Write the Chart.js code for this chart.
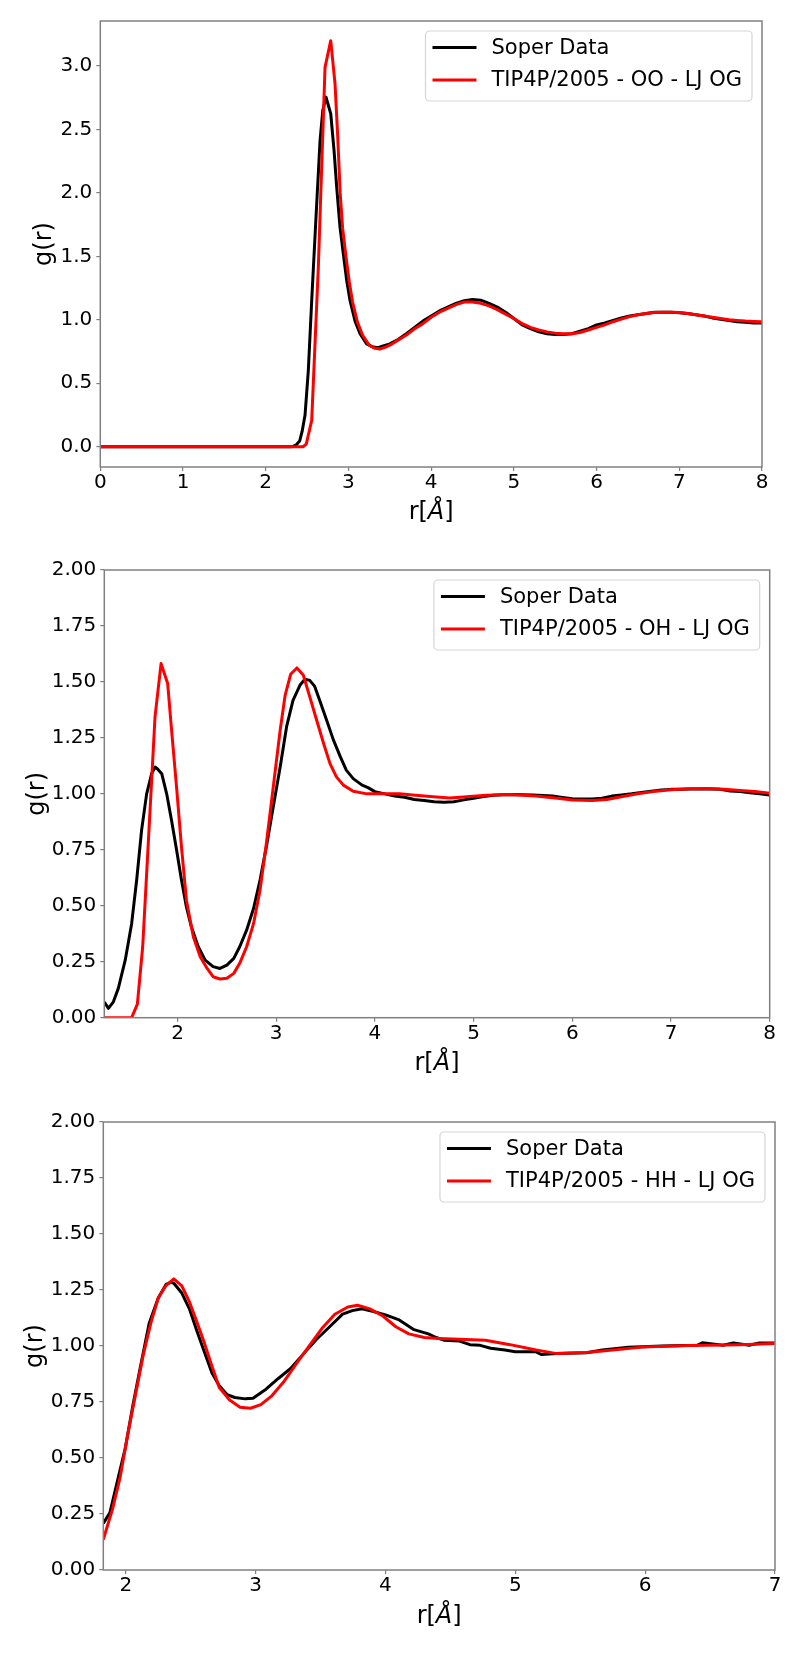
<!DOCTYPE html>
<html>
<head>
<meta charset="utf-8">
<script src="https://cdn.jsdelivr.net/npm/chart.js@4.4.1/dist/chart.umd.min.js"></script>
<style>
  html, body { margin: 0; padding: 0; background: #fff; }
  body { width: 800px; height: 1656px; position: relative; overflow: hidden; }
  canvas { position: absolute; left: 0; }
</style>
</head>
<body>
<canvas id="chart-oo" width="800" height="545" style="top:0px"></canvas>
<canvas id="chart-oh" width="800" height="545" style="top:545px"></canvas>
<canvas id="chart-hh" width="800" height="566" style="top:1090px"></canvas>
<script>
// ---- O-O ----
const ooSoperR = [0, 2.30, 2.33, 2.37, 2.41, 2.44, 2.475, 2.515, 2.556, 2.608, 2.657, 2.69, 2.729, 2.786, 2.826, 2.858, 2.898, 2.938, 2.979, 3.019, 3.08, 3.14, 3.22, 3.30, 3.36, 3.42,
  3.5, 3.6, 3.7, 3.8, 3.9, 4.0, 4.1, 4.2, 4.3, 4.4, 4.5, 4.6, 4.7, 4.8, 4.9, 5.0, 5.1, 5.2, 5.3, 5.4, 5.5, 5.6, 5.7, 5.8, 5.9,
  6.0, 6.1, 6.2, 6.3, 6.4, 6.5, 6.6, 6.7, 6.8, 6.9, 7.0, 7.1, 7.2, 7.3, 7.4, 7.5, 7.6, 7.7, 7.8, 7.9, 8.0];
const ooSoperG = [0, 0, 0.002, 0.015, 0.044, 0.12, 0.247, 0.60, 1.153, 1.81, 2.414, 2.65, 2.755, 2.624, 2.335, 2.046, 1.73, 1.521, 1.31, 1.153, 0.99, 0.89, 0.81, 0.785, 0.78, 0.795,
  0.81, 0.845, 0.89, 0.94, 0.99, 1.03, 1.07, 1.10, 1.13, 1.15, 1.16, 1.155, 1.13, 1.10, 1.06, 1.01, 0.96, 0.93, 0.905, 0.89, 0.885, 0.885, 0.89, 0.91, 0.93,
  0.96, 0.975, 0.995, 1.015, 1.03, 1.04, 1.05, 1.06, 1.06, 1.06, 1.055, 1.05, 1.04, 1.03, 1.015, 1.005, 0.995, 0.985, 0.98, 0.975, 0.975];
const ooTipR = [0, 2.45, 2.49, 2.556, 2.636, 2.717, 2.786, 2.838, 2.87, 2.90, 2.93, 2.97, 3.01, 3.05, 3.11, 3.17, 3.25, 3.32, 3.38, 3.45,
  3.5, 3.6, 3.7, 3.8, 3.9, 4.0, 4.1, 4.2, 4.3, 4.4, 4.5, 4.6, 4.7, 4.8, 4.9, 5.0, 5.1, 5.2, 5.3, 5.4, 5.5, 5.6, 5.7, 5.8, 5.9,
  6.0, 6.1, 6.2, 6.3, 6.4, 6.5, 6.6, 6.7, 6.8, 6.9, 7.0, 7.1, 7.2, 7.3, 7.4, 7.5, 7.6, 7.7, 7.8, 7.9, 8.0];
const ooTipG = [0, 0, 0.02, 0.207, 1.415, 2.99, 3.20, 2.86, 2.45, 2.0, 1.72, 1.50, 1.30, 1.14, 0.98, 0.88, 0.80, 0.775, 0.77, 0.785,
  0.80, 0.84, 0.88, 0.93, 0.97, 1.02, 1.06, 1.09, 1.12, 1.14, 1.14, 1.13, 1.11, 1.08, 1.045, 1.01, 0.97, 0.94, 0.92, 0.905, 0.895, 0.89, 0.89, 0.90, 0.92,
  0.94, 0.96, 0.985, 1.005, 1.025, 1.04, 1.05, 1.058, 1.06, 1.06, 1.057, 1.05, 1.04, 1.03, 1.02, 1.01, 1.0, 0.995, 0.99, 0.987, 0.985];

// ---- O-H ----
const ohSoperR = [1.258, 1.30, 1.35, 1.40, 1.47, 1.535, 1.586, 1.636, 1.687, 1.738, 1.772, 1.80, 1.84, 1.89, 1.94, 1.99, 2.04, 2.09, 2.14, 2.21,
  2.28, 2.36, 2.43, 2.50, 2.57, 2.63, 2.70, 2.77, 2.836, 2.90, 2.97, 3.04, 3.105, 3.17, 3.24, 3.29, 3.34, 3.39, 3.44, 3.51,
  3.58, 3.65, 3.71, 3.78, 3.87, 3.93, 4.0, 4.1, 4.2, 4.3, 4.4, 4.5, 4.6, 4.7, 4.8, 4.9, 5.0, 5.1, 5.2, 5.3, 5.4, 5.5, 5.6, 5.7, 5.8, 5.9,
  6.0, 6.1, 6.2, 6.3, 6.4, 6.5, 6.6, 6.7, 6.8, 6.9, 7.0, 7.1, 7.2, 7.3, 7.4, 7.5, 7.6, 7.7, 7.8, 7.9, 8.0];
const ohSoperG = [0.07, 0.042, 0.071, 0.131, 0.257, 0.42, 0.615, 0.838, 1.0, 1.09, 1.12, 1.11, 1.09, 1.0, 0.88, 0.75, 0.615, 0.495, 0.406, 0.317,
  0.257, 0.228, 0.22, 0.235, 0.265, 0.317, 0.391, 0.488, 0.615, 0.763, 0.942, 1.12, 1.30, 1.418, 1.485, 1.512, 1.507, 1.48, 1.418, 1.33,
  1.24, 1.165, 1.106, 1.068, 1.039, 1.028, 1.01, 1.0, 0.99, 0.985, 0.975, 0.97, 0.965, 0.962, 0.965, 0.973, 0.98, 0.988, 0.994, 0.996, 0.997, 0.996, 0.995, 0.993, 0.99, 0.984,
  0.978, 0.977, 0.977, 0.98, 0.99, 0.995, 1.0, 1.006, 1.012, 1.017, 1.02, 1.021, 1.022, 1.022, 1.022, 1.02, 1.013, 1.01, 1.005, 1.0, 0.995];
const ohTipR = [1.258, 1.535, 1.593, 1.647, 1.70, 1.772, 1.833, 1.90, 1.94, 1.99, 2.04, 2.09, 2.16, 2.23, 2.30, 2.36, 2.43, 2.50, 2.57, 2.63,
  2.70, 2.77, 2.836, 2.90, 2.97, 3.04, 3.09, 3.146, 3.21, 3.275, 3.34, 3.41, 3.48, 3.545, 3.61, 3.68, 3.78, 3.92, 4.09, 4.25,
  4.41, 4.59, 4.76, 4.93, 5.13, 5.37, 5.63, 5.85, 6.0, 6.2, 6.35, 6.51, 6.66, 6.82, 7.0, 7.18, 7.36, 7.54, 7.7, 7.85, 8.0];
const ohTipG = [0, 0, 0.061, 0.317, 0.75, 1.344, 1.582, 1.493, 1.284, 1.031, 0.763, 0.525, 0.362, 0.272, 0.22, 0.183, 0.173, 0.176, 0.198, 0.243,
  0.317, 0.42, 0.57, 0.778, 1.031, 1.284, 1.44, 1.534, 1.5625, 1.53, 1.433, 1.329, 1.225, 1.135, 1.076, 1.039, 1.012, 1.0, 1.0, 1.0,
  0.994, 0.987, 0.982, 0.987, 0.994, 0.997, 0.99, 0.98, 0.973, 0.97, 0.975, 0.988, 1.0, 1.01, 1.018, 1.023, 1.024, 1.02, 1.015, 1.01, 1.003];

// ---- H-H ----
const hhSoperR = [1.827, 1.878, 1.937, 1.996, 2.055, 2.114, 2.18, 2.25, 2.31, 2.35, 2.37, 2.43, 2.49, 2.546, 2.605, 2.664, 2.72, 2.78, 2.84, 2.92,
  2.98, 3.08, 3.175, 3.27, 3.37, 3.47, 3.57, 3.67, 3.745, 3.82, 3.90, 4.0, 4.10, 4.22, 4.33, 4.39, 4.45, 4.57, 4.65, 4.73,
  4.81, 4.92, 5.0, 5.16, 5.2, 5.32, 5.55, 5.67, 5.87, 6.13, 6.40, 6.44, 6.6, 6.68, 6.8, 6.88, 7.0];
const hhSoperG = [0.208, 0.256, 0.40, 0.543, 0.735, 0.91, 1.10, 1.214, 1.275, 1.285, 1.28, 1.238, 1.166, 1.07, 0.974, 0.879, 0.823, 0.783, 0.77, 0.764,
  0.767, 0.807, 0.855, 0.90, 0.966, 1.03, 1.086, 1.142, 1.158, 1.166, 1.155, 1.139, 1.118, 1.073, 1.054, 1.038, 1.026, 1.022, 1.006, 1.003,
  0.99, 0.982, 0.974, 0.974, 0.962, 0.966, 0.97, 0.982, 0.994, 1.0, 1.003, 1.014, 1.003, 1.014, 1.003, 1.013, 1.013];
const hhTipR = [1.827, 1.898, 1.957, 2.016, 2.075, 2.134, 2.193, 2.25, 2.31, 2.37, 2.43, 2.49, 2.546, 2.605, 2.664, 2.72, 2.80, 2.88, 2.96, 3.04,
  3.12, 3.215, 3.31, 3.41, 3.51, 3.61, 3.71, 3.785, 3.88, 3.98, 4.08, 4.18, 4.30, 4.41, 4.57, 4.77, 4.96, 5.16, 5.32, 5.55,
  5.75, 5.98, 6.34, 6.73, 7.0];
const hhTipG = [0.136, 0.272, 0.415, 0.607, 0.783, 0.958, 1.102, 1.214, 1.27, 1.30, 1.27, 1.198, 1.11, 1.014, 0.91, 0.815, 0.759, 0.727, 0.722, 0.738,
  0.775, 0.839, 0.918, 0.998, 1.078, 1.142, 1.174, 1.182, 1.166, 1.134, 1.086, 1.054, 1.038, 1.034, 1.03, 1.026, 1.006, 0.982, 0.966, 0.971,
  0.982, 0.995, 1.002, 1.006, 1.011];

// ticks
const ooXTicks = [0, 1, 2, 3, 4, 5, 6, 7, 8];
const ooYTicks = [0, 0.5, 1.0, 1.5, 2.0, 2.5, 3.0];
const ohXTicks = [2, 3, 4, 5, 6, 7, 8];
const hhXTicks = [2, 3, 4, 5, 6, 7];
const quarterYTicks = [0, 0.25, 0.5, 0.75, 1.0, 1.25, 1.5, 1.75, 2.0];

const soperLabel = 'Soper Data';
const tipLabels = ['TIP4P/2005 - OO - LJ OG', 'TIP4P/2005 - OH - LJ OG', 'TIP4P/2005 - HH - LJ OG'];

Chart.defaults.font.family = '"DejaVu Sans", sans-serif';
Chart.defaults.color = '#000';

const SPINE = '#808080';

function pts(r, g) {
  return r.map((x, i) => ({ x: x, y: g[i] }));
}

// frame on all four sides, like matplotlib spines
const frame = {
  id: 'frame',
  afterDatasetsDraw(chart) {
    const { ctx, chartArea: a } = chart;
    ctx.save();
    ctx.strokeStyle = SPINE;
    ctx.lineWidth = 1.5;
    ctx.strokeRect(a.left, a.top, a.right - a.left, a.bottom - a.top);
    ctx.restore();
  }
};

// legend box inside the plot, upper right
const legendBox = {
  id: 'legendBox',
  afterDatasetsDraw(chart, args, opts) {
    const { ctx, chartArea: a } = chart;
    ctx.save();
    ctx.font = '21px "DejaVu Sans"';
    const textW = Math.max(...opts.items.map(it => ctx.measureText(it.text).width));
    const w = 66 + textW + 10;
    const h = 70;
    const x = a.right - 10 - w;
    const y = a.top + 10;
    ctx.beginPath();
    ctx.roundRect(x, y, w, h, 4);
    ctx.fillStyle = 'rgba(255,255,255,0.85)';
    ctx.fill();
    ctx.strokeStyle = '#d5d5d5';
    ctx.lineWidth = 1.2;
    ctx.stroke();
    opts.items.forEach((it, i) => {
      const ly = y + 16.5 + i * 32.5;
      ctx.strokeStyle = it.color;
      ctx.lineWidth = 3;
      ctx.beginPath();
      ctx.moveTo(x + 7, ly);
      ctx.lineTo(x + 51, ly);
      ctx.stroke();
      ctx.fillStyle = '#000';
      ctx.textBaseline = 'middle';
      ctx.fillText(it.text, x + 66, ly + 1);
    });
    ctx.restore();
  }
};

// x title r[Å] with italic Å
const rTitle = {
  id: 'rTitle',
  afterDraw(chart, args, opts) {
    const { ctx, chartArea: a } = chart;
    const parts = [['r[', '24px "DejaVu Sans"'], ['Å', 'italic 24px "DejaVu Sans"'], [']', '24px "DejaVu Sans"']];
    ctx.save();
    let total = 0;
    parts.forEach(p => { ctx.font = p[1]; total += ctx.measureText(p[0]).width; });
    let x = (a.left + a.right) / 2 - total / 2;
    const y = a.bottom + opts.offset;
    ctx.fillStyle = '#000';
    ctx.textBaseline = 'middle';
    parts.forEach(p => {
      ctx.font = p[1];
      ctx.fillText(p[0], x, y);
      x += ctx.measureText(p[0]).width;
    });
    ctx.restore();
  }
};

function makeChart(id, cfg) {
  const canvas = document.getElementById(id);
  const W = canvas.width, H = canvas.height;
  const area = cfg.area;
  return new Chart(canvas, {
    type: 'line',
    data: {
      datasets: [
        { label: soperLabel, data: pts(cfg.soperR, cfg.soperG), borderColor: '#000000', order: 2 },
        { label: cfg.tipLabel, data: pts(cfg.tipR, cfg.tipG), borderColor: '#ff0000', order: 1 }
      ]
    },
    options: {
      responsive: false,
      devicePixelRatio: 1,
      animation: false,
      events: [],
      elements: {
        point: { radius: 0 },
        line: { borderWidth: 3, tension: 0, borderJoinStyle: 'round', fill: false }
      },
      layout: { padding: { left: 0, top: area.top, right: W - area.right, bottom: 0 } },
      scales: {
        x: {
          type: 'linear',
          min: cfg.xMin, max: cfg.xMax,
          afterFit: s => { s.height = H - area.bottom; },
          afterBuildTicks: s => { s.ticks = cfg.xTicks.map(v => ({ value: v })); },
          ticks: { autoSkip: false, maxRotation: 0, padding: 2, font: { size: 20, lineHeight: 1 }, callback: v => String(v) },
          grid: { display: true, drawOnChartArea: false, drawTicks: true, tickLength: 4, color: SPINE, lineWidth: 1.2 },
          border: { display: false }
        },
        y: {
          type: 'linear',
          min: cfg.yMin, max: cfg.yMax,
          afterFit: s => { s.width = area.left; },
          afterBuildTicks: s => { s.ticks = cfg.yTicks.map(v => ({ value: v })); },
          ticks: { autoSkip: false, padding: 4, font: { size: 20, lineHeight: 1 }, callback: v => v.toFixed(cfg.yDec) },
          grid: { display: true, drawOnChartArea: false, drawTicks: true, tickLength: 4, color: SPINE, lineWidth: 1.2 },
          border: { display: false },
          title: { display: true, text: 'g(r)', font: { size: 24 }, padding: { top: cfg.yTitlePad, bottom: 0 } }
        }
      },
      plugins: {
        legend: { display: false },
        tooltip: { enabled: false },
        legendBox: { items: [{ text: soperLabel, color: '#000000' }, { text: cfg.tipLabel, color: '#ff0000' }] },
        rTitle: { offset: cfg.xTitleOffset }
      }
    },
    plugins: [frame, legendBox, rTitle]
  });
}

makeChart('chart-oo', {
  soperR: ooSoperR, soperG: ooSoperG, tipR: ooTipR, tipG: ooTipG, tipLabel: tipLabels[0],
  xMin: 0, xMax: 8, yMin: -0.16, yMax: 3.355, xTicks: ooXTicks, yTicks: ooYTicks, yDec: 1,
  area: { left: 100.3, top: 21, right: 762, bottom: 467 }, yTitlePad: 30.5, xTitleOffset: 46
});
makeChart('chart-oh', {
  soperR: ohSoperR, soperG: ohSoperG, tipR: ohTipR, tipG: ohTipG, tipLabel: tipLabels[1],
  xMin: 1.258, xMax: 8, yMin: 0, yMax: 2, xTicks: ohXTicks, yTicks: quarterYTicks, yDec: 2,
  area: { left: 104.3, top: 25, right: 769.7, bottom: 472.7 }, yTitlePad: 23, xTitleOffset: 46
});
makeChart('chart-hh', {
  soperR: hhSoperR, soperG: hhSoperG, tipR: hhTipR, tipG: hhTipG, tipLabel: tipLabels[2],
  xMin: 1.827, xMax: 7, yMin: 0, yMax: 2, xTicks: hhXTicks, yTicks: quarterYTicks, yDec: 2,
  area: { left: 103.3, top: 32, right: 775, bottom: 480 }, yTitlePad: 21, xTitleOffset: 47
});
</script>
</body>
</html>
